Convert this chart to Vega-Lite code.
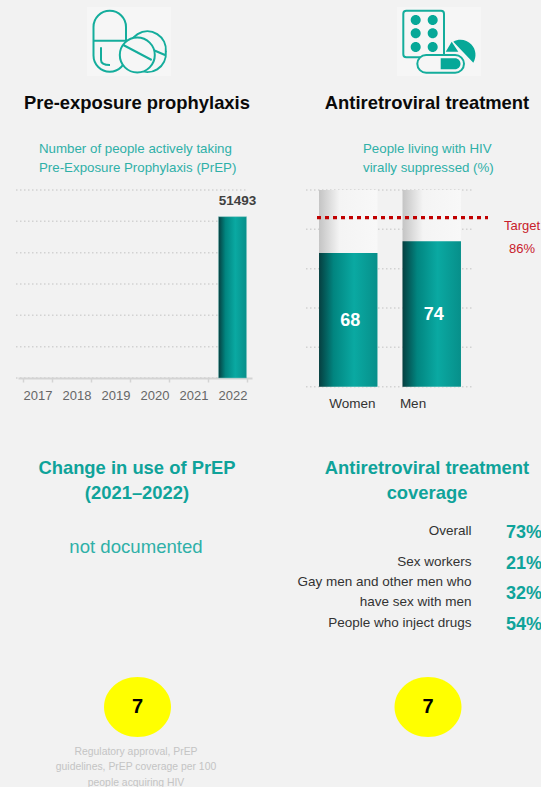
{
"$schema":"https://vega.github.io/schema/vega-lite/v6.json",
"width":541,"height":787,"padding":0,"autosize":"none","background":"#f2f2f2",
"config":{"view":{"stroke":null},"text":{"font":"Liberation Sans"},"axis":{"labelFont":"Liberation Sans"}},
"resolve":{"scale":{"x":"independent","y":"independent"},"axis":{"x":"independent","y":"independent"}},
"layer":[
{"data":{"values":[{"icon":"PrEP"},{"icon":"ART"}]},
 "mark":{"type":"point","filled":true,"size":4,"opacity":1,"color":"#f6f6f6","shape":"M-42,-34.5 L42,-34.5 L42,34.5 L-42,34.5 Z"},
 "encoding":{"x":{"field":"icon","type":"nominal","scale":{"type":"point","padding":0,"domain":["PrEP","ART"],"range":[129,439]},"axis":null},
 "y":{"field":"icon","type":"nominal","scale":{"type":"point","padding":0,"domain":["PrEP","ART"],"range":[41.5,41.5]},"axis":null}}},
{"data":{"values":[{"icon":"PrEP"}]},
 "layer":[
 {"mark":{"type":"point","filled":false,"size":4,"opacity":1,"stroke":"#14ad9c","strokeWidth":2,"shape":"M-35.5,-14.5 A16.25,16.25 0 0 1 -3,-14.5 L-3,14 A16.25,16.25 0 0 1 -35.5,14 Z M-35.5,-0.8 L-3,-0.8 M-28,5.8 L-28,18.5 Q-28,23.5 -19,23.5 M0,10.2 A18.5,18.5 0 1 1 36.8,10.2 A18.5,18.5 0 1 1 0,10.2 Z M24.3,8.5 L36,13.5"},
 "encoding":{"x":{"field":"icon","type":"nominal","scale":{"type":"point","padding":0,"domain":["PrEP","ART"],"range":[129,439]},"axis":null},
 "y":{"field":"icon","type":"nominal","scale":{"type":"point","padding":0,"domain":["PrEP","ART"],"range":[41.5,41.5]},"axis":null}}},
 {"mark":{"type":"point","filled":false,"size":4,"opacity":1,"fill":"#f6f6f6","stroke":"#14ad9c","strokeWidth":2,"shape":"M-9.2,13.5 A17.5,17.5 0 1 1 25.8,13.5 A17.5,17.5 0 1 1 -9.2,13.5 Z M-5.7,3.5 L22.7,18.5"},
 "encoding":{"x":{"field":"icon","type":"nominal","scale":{"type":"point","padding":0,"domain":["PrEP","ART"],"range":[129,439]},"axis":null},
 "y":{"field":"icon","type":"nominal","scale":{"type":"point","padding":0,"domain":["PrEP","ART"],"range":[41.5,41.5]},"axis":null}}}
 ]},
{"data":{"values":[{"icon":"ART"}]},
 "layer":[
 {"mark":{"type":"point","filled":false,"size":4,"opacity":1,"stroke":"#14ad9c","strokeWidth":2,"shape":"M-32.7,-30.8 L2,-30.8 Q5,-30.8 5,-27.8 L5,12.8 Q5,15.8 2,15.8 L-32.7,15.8 Q-35.7,15.8 -35.7,12.8 L-35.7,-27.8 Q-35.7,-30.8 -32.7,-30.8 Z"},
 "encoding":{"x":{"field":"icon","type":"nominal","scale":{"type":"point","padding":0,"domain":["PrEP","ART"],"range":[129,439]},"axis":null},
 "y":{"field":"icon","type":"nominal","scale":{"type":"point","padding":0,"domain":["PrEP","ART"],"range":[41.5,41.5]},"axis":null}}},
 {"mark":{"type":"point","filled":false,"size":4,"opacity":1,"fill":"#f6f6f6","stroke":"#14ad9c","strokeWidth":2,"shape":"M-12.85,13.5 L16.15,13.5 A8.85,8.85 0 0 1 16.15,31.2 L-12.85,31.2 A8.85,8.85 0 0 1 -12.85,13.5 Z"},
 "encoding":{"x":{"field":"icon","type":"nominal","scale":{"type":"point","padding":0,"domain":["PrEP","ART"],"range":[129,439]},"axis":null},
 "y":{"field":"icon","type":"nominal","scale":{"type":"point","padding":0,"domain":["PrEP","ART"],"range":[41.5,41.5]},"axis":null}}},
 {"mark":{"type":"point","filled":true,"size":4,"opacity":1,"color":"#06a898","shape":"M-28.3,-21.5 A5,5 0 1 1 -18.3,-21.5 A5,5 0 1 1 -28.3,-21.5 Z M-11.3,-21.5 A5,5 0 1 1 -1.3,-21.5 A5,5 0 1 1 -11.3,-21.5 Z M-28.3,-8.2 A5,5 0 1 1 -18.3,-8.2 A5,5 0 1 1 -28.3,-8.2 Z M-11.3,-8.2 A5,5 0 1 1 -1.3,-8.2 A5,5 0 1 1 -11.3,-8.2 Z M-28.3,5.5 A5,5 0 1 1 -18.3,5.5 A5,5 0 1 1 -28.3,5.5 Z M-11.3,5.5 A5,5 0 1 1 -1.3,5.5 A5,5 0 1 1 -11.3,5.5 Z M14.3,0.2 A15,15 0 0 1 34.3,21.2 Z M6.7,10.2 L12.7,0.2 L19.3,10.2 Z M1.7,16.8 L16,16.8 A5.5,5.5 0 0 1 16,27.8 L1.7,27.8 Z"},
 "encoding":{"x":{"field":"icon","type":"nominal","scale":{"type":"point","padding":0,"domain":["PrEP","ART"],"range":[129,439]},"axis":null},
 "y":{"field":"icon","type":"nominal","scale":{"type":"point","padding":0,"domain":["PrEP","ART"],"range":[41.5,41.5]},"axis":null}}}
 ]},
{"data":{"values":[{"grid":0},{"grid":10000},{"grid":20000},{"grid":30000},{"grid":40000},{"grid":50000},{"grid":60000}]},
 "mark":{"type":"rule","stroke":"#d2d2d2","strokeWidth":1.5,"strokeDash":[1.5,2.5]},
 "encoding":{"x":{"datum":0,"type":"quantitative","scale":{"domain":[0,1],"range":[16,247]},"axis":null},"x2":{"datum":1},
 "y":{"field":"grid","type":"quantitative","scale":{"domain":[0,60000],"range":[378,190]},"axis":null}}},
{"data":{"values":[{"year":"2022","people":51493}]},
 "layer":[
 {"mark":{"type":"bar","stroke":"#7fc4c0","strokeWidth":0.5,"color":{"gradient":"linear","x1":0,"x2":1,"y1":0,"y2":0,"stops":[{"offset":0,"color":"#063f40"},{"offset":0.25,"color":"#018580"},{"offset":0.6,"color":"#0aa9a2"},{"offset":1,"color":"#078f8a"}]}},
 "encoding":{"x":{"field":"year","type":"nominal","scale":{"type":"band","domain":["2017","2018","2019","2020","2021","2022"],"range":[18,252],"paddingInner":0.28,"paddingOuter":0.14},
  "axis":{"title":null,"offset":-409,"labelAngle":0,"labelColor":"#666666","labelFontSize":13,"labelPadding":7,"domainColor":"#d4d4d4","domainWidth":2,"tickColor":"#d4d4d4","tickWidth":1.5,"tickSize":4,"tickBand":"extent","grid":false}},
  "y":{"field":"people","type":"quantitative","scale":{"domain":[0,60000],"range":[378,190]},"axis":null}}},
 {"mark":{"type":"text","fontWeight":"bold","fontSize":13.5,"color":"#404040","dx":5,"dy":-16},
 "encoding":{"x":{"field":"year","type":"nominal"},"y":{"field":"people","type":"quantitative"},"text":{"field":"people","type":"quantitative","format":"d"}}}
 ]},
{"data":{"values":[{"grid":0},{"grid":20},{"grid":40},{"grid":60},{"grid":80},{"grid":100}]},
 "mark":{"type":"rule","stroke":"#d2d2d2","strokeWidth":1.5,"strokeDash":[1.5,2.5]},
 "encoding":{"x":{"datum":0,"type":"quantitative","scale":{"domain":[0,1],"range":[306,474]},"axis":null},"x2":{"datum":1},
 "y":{"field":"grid","type":"quantitative","scale":{"domain":[0,100],"range":[386.7,190]},"axis":null}}},
{"data":{"values":[{"sex":"Women","suppressed":68},{"sex":"Men","suppressed":74}]},
 "layer":[
 {"mark":{"type":"bar","color":{"gradient":"linear","x1":0,"x2":1,"y1":0,"y2":0,"stops":[{"offset":0,"color":"#c4c4c4"},{"offset":0.35,"color":"#f4f4f4"},{"offset":1,"color":"#f8f8f8"}]}},
 "encoding":{"x":{"field":"sex","type":"nominal","scale":{"type":"band","domain":["Women","Men"],"range":[306,474],"paddingInner":0.3,"paddingOuter":0.156},"axis":null},
  "y":{"datum":100,"type":"quantitative","scale":{"domain":[0,100],"range":[386.7,190]},"axis":null},"y2":{"datum":0}}},
 {"mark":{"type":"bar","color":{"gradient":"linear","x1":0,"x2":1,"y1":0,"y2":0,"stops":[{"offset":0,"color":"#063f40"},{"offset":0.25,"color":"#018580"},{"offset":0.6,"color":"#0aa9a2"},{"offset":1,"color":"#078f8a"}]}},
 "encoding":{"x":{"field":"sex","type":"nominal"},"y":{"field":"suppressed","type":"quantitative"}}}
 ]},
{"data":{"values":[{"sex":"Women","suppressed":68},{"sex":"Men","suppressed":74}]},
 "mark":{"type":"text","fontWeight":"bold","fontSize":18,"color":"#ffffff","dx":2,"dy":1},
 "encoding":{"x":{"field":"sex","type":"nominal","scale":{"type":"band","domain":["Women","Men"],"range":[306,474],"paddingInner":0.3,"paddingOuter":0.156},"axis":null},
 "y":{"field":"suppressed","type":"quantitative","scale":{"domain":[0,200],"range":[386.7,190]},"axis":null},"text":{"field":"suppressed","type":"quantitative"}}},
{"data":{"values":[{"target":86}]},
 "mark":{"type":"rule","stroke":"#c00000","strokeWidth":3.2,"strokeDash":[4,4]},
 "encoding":{"x":{"datum":0,"type":"quantitative","scale":{"domain":[0,1],"range":[317,488]},"axis":null},"x2":{"datum":1},
 "y":{"field":"target","type":"quantitative","scale":{"domain":[0,100],"range":[386.7,190]},"axis":null}}},
{"data":{"values":[{"label":"Target"},{"label":"86%"}]},
 "mark":{"type":"text","fontSize":13,"color":"#c8202a"},
 "encoding":{"x":{"field":"label","type":"nominal","scale":{"type":"point","padding":0,"domain":["Target","86%"],"range":[522,522]},"axis":null},
 "y":{"field":"label","type":"nominal","scale":{"type":"point","padding":0,"domain":["Target","86%"],"range":[225.7,249.3]},"axis":null},"text":{"field":"label"}}},
{"data":{"values":[{"sex":"Women"},{"sex":"Men"}]},
 "mark":{"type":"text","fontSize":13.5,"color":"#333333"},
 "encoding":{"x":{"field":"sex","type":"nominal","scale":{"type":"point","padding":0,"domain":["Women","Men"],"range":[352.5,413]},"axis":null},
 "y":{"field":"sex","type":"nominal","scale":{"type":"point","padding":0,"domain":["Women","Men"],"range":[403.5,403.5]},"axis":null},"text":{"field":"sex"}}},
{"data":{"values":[{"column":"PrEP","row":1,"text":"Pre-exposure prophylaxis"},{"column":"ART","row":1,"text":"Antiretroviral treatment"}]},
 "mark":{"type":"text","fontWeight":"bold","fontSize":18.4,"color":"#0a0a0a"},
 "encoding":{"x":{"field":"column","type":"nominal","scale":{"type":"point","padding":0,"domain":["PrEP","ART"],"range":[137,427]},"axis":null},
 "y":{"field":"row","type":"quantitative","scale":{"domain":[1,2,3,4,5,6],"range":[103,149,468,547,707,751.7]},"axis":null},"text":{"field":"text"}}},
{"data":{"values":[{"column":"PrEP","row":2,"text":"Number of people actively taking\nPre-Exposure Prophylaxis (PrEP)"},{"column":"ART","row":2,"text":"People living with HIV\nvirally suppressed (%)"}]},
 "mark":{"type":"text","fontSize":13.3,"color":"#2fb0a8","align":"left","lineBreak":"\n","lineHeight":19},
 "encoding":{"x":{"field":"column","type":"nominal","scale":{"type":"point","padding":0,"domain":["PrEP","ART"],"range":[39,363]},"axis":null},
 "y":{"field":"row","type":"quantitative","scale":{"domain":[1,2,3,4,5,6],"range":[103,149,468,547,707,751.7]},"axis":null},"text":{"field":"text"}}},
{"data":{"values":[{"column":"PrEP","row":3,"text":"Change in use of PrEP\n(2021–2022)"},{"column":"ART","row":3,"text":"Antiretroviral treatment\ncoverage"}]},
 "mark":{"type":"text","fontWeight":"bold","fontSize":18.4,"color":"#0fa39a","lineBreak":"\n","lineHeight":25},
 "encoding":{"x":{"field":"column","type":"nominal","scale":{"type":"point","padding":0,"domain":["PrEP","ART"],"range":[137,427]},"axis":null},
 "y":{"field":"row","type":"quantitative","scale":{"domain":[1,2,3,4,5,6],"range":[103,149,468,547,707,751.7]},"axis":null},"text":{"field":"text"}}},
{"data":{"values":[{"column":"PrEP","row":4,"text":"not documented"}]},
 "mark":{"type":"text","fontSize":18.6,"color":"#2fb0a8"},
 "encoding":{"x":{"field":"column","type":"nominal","scale":{"type":"point","padding":0,"domain":["PrEP","ART"],"range":[136,427]},"axis":null},
 "y":{"field":"row","type":"quantitative","scale":{"domain":[1,2,3,4,5,6],"range":[103,149,468,547,707,751.7]},"axis":null},"text":{"field":"text"}}},
{"data":{"values":[{"population":"Overall","label":"Overall"},{"population":"Sex workers","label":"Sex workers"},{"population":"People who inject drugs","label":"People who inject drugs"}]},
 "mark":{"type":"text","fontSize":13.5,"color":"#333333","align":"right"},
 "encoding":{"x":{"field":"population","type":"nominal","scale":{"type":"point","padding":0,"range":[471.5,471.5]},"axis":null},
  "y":{"field":"population","type":"nominal","scale":{"type":"point","padding":0,"domain":["Overall","Sex workers","Gay men","People who inject drugs"],"range":[531,623]},"axis":null},"text":{"field":"label"}}},
{"data":{"values":[{"population":"Gay men","label":"Gay men and other men who\nhave sex with men"}]},
 "mark":{"type":"text","fontSize":13.5,"color":"#333333","align":"right","lineBreak":"\n","lineHeight":20,"dy":-10.3},
 "encoding":{"x":{"field":"population","type":"nominal","scale":{"type":"point","padding":0,"range":[471.5,471.5]},"axis":null},
  "y":{"field":"population","type":"nominal","scale":{"type":"point","padding":0,"domain":["Overall","Sex workers","Gay men","People who inject drugs"],"range":[531,623]},"axis":null},"text":{"field":"label"}}},
{"data":{"values":[{"population":"Overall","coverage":0.73},{"population":"Sex workers","coverage":0.21},{"population":"Gay men","coverage":0.32},{"population":"People who inject drugs","coverage":0.54}]},
 "mark":{"type":"text","fontWeight":"bold","fontSize":18,"color":"#0fa39a","align":"left"},
 "encoding":{"x":{"field":"population","type":"nominal","scale":{"type":"point","padding":0,"range":[506,506]},"axis":null},
  "y":{"field":"population","type":"nominal","scale":{"type":"point","padding":0,"domain":["Overall","Sex workers","Gay men","People who inject drugs"],"range":[533,625]},"axis":null},"text":{"field":"coverage","type":"quantitative","format":".0%"}}},
{"data":{"values":[{"column":"PrEP","row":5,"score":7},{"column":"ART","row":5,"score":7}]},
 "layer":[
 {"mark":{"type":"point","filled":true,"size":4,"opacity":1,"color":"#ffff00","shape":"M-33.5,0 A33.5,30 0 1 1 33.5,0 A33.5,30 0 1 1 -33.5,0 Z"},
 "encoding":{"x":{"field":"column","type":"nominal","scale":{"type":"point","padding":0,"domain":["PrEP","ART"],"range":[137.5,428]},"axis":null},
 "y":{"field":"row","type":"quantitative","scale":{"domain":[1,2,3,4,5,6],"range":[103,149,468,547,707,751.7]},"axis":null}}},
 {"mark":{"type":"text","fontWeight":"bold","fontSize":20,"color":"#000000"},
 "encoding":{"x":{"field":"column","type":"nominal"},"y":{"field":"row","type":"quantitative"},"text":{"field":"score","type":"quantitative"}}}
 ]},
{"data":{"values":[{"column":"PrEP","row":6,"text":"Regulatory approval, PrEP\nguidelines, PrEP coverage per 100\npeople acquiring HIV"}]},
 "mark":{"type":"text","fontSize":10.4,"color":"#c4c4c4","lineBreak":"\n","lineHeight":15.5},
 "encoding":{"x":{"field":"column","type":"nominal","scale":{"type":"point","padding":0,"domain":["PrEP","ART"],"range":[136,427]},"axis":null},
 "y":{"field":"row","type":"quantitative","scale":{"domain":[1,2,3,4,5,6],"range":[103,149,468,547,707,751.7]},"axis":null},"text":{"field":"text"}}}
]}
